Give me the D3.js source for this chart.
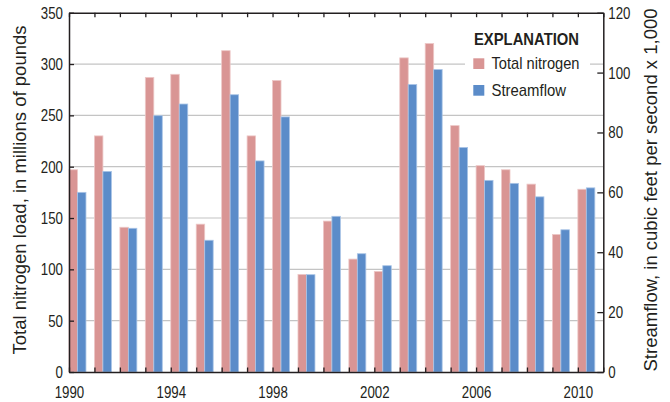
<!DOCTYPE html>
<html>
<head>
<meta charset="utf-8">
<script src="https://cdn.jsdelivr.net/npm/d3@7"></script>
<style>
  body { margin: 0; background: #fff; }
  svg { display: block; }
  text { font-family: "Liberation Sans Narrow", "Liberation Sans", Arial, sans-serif; fill: #231f20; }
</style>
</head>
<body>
<svg id="chart" width="670" height="402"></svg>
<script>
const years = d3.range(1990, 2011);
const nitrogen = [197, 230, 141, 287, 290, 144, 313, 230, 284, 95, 147, 110, 98, 306, 320, 240, 201, 197, 183, 134, 178];
const streamflow = [60, 67, 48, 85.6, 89.5, 44, 92.6, 70.5, 85.2, 32.5, 52, 39.5, 35.5, 96, 101, 75, 64, 63, 58.5, 47.5, 61.5];
const leftTicks = [0, 50, 100, 150, 200, 250, 300, 350];
const rightTicks = [0, 20, 40, 60, 80, 100, 120];
const yearLabels = [1990, 1994, 1998, 2002, 2006, 2010];
const seriesNames = ["Total nitrogen", "Streamflow"];

const colors = ["#d99594", "#5b8cc9"];
const strokes = ["#edc8c7", "#a9c4e6"];

const svg = d3.select("#chart");
const L = 69, R = 603.3, T = 12.7, B = 372;

const x = d3.scaleLinear().domain([1990, 2011]).range([L, R]);
const yL = d3.scaleLinear().domain([0, 350]).range([B, T]);
const yR = d3.scaleLinear().domain([0, 120]).range([B, T]);

// condense text horizontally to mimic a narrow typeface
function narrow(sel, f) {
  sel.each(function () {
    const w = this.getComputedTextLength();
    if (w > 0) d3.select(this).attr("textLength", w * f).attr("lengthAdjust", "spacingAndGlyphs");
  });
}

// gridlines
svg.append("g").selectAll("line").data(leftTicks.filter(d => d > 0 && d < 350)).join("line")
  .attr("x1", L).attr("x2", R).attr("y1", d => yL(d)).attr("y2", d => yL(d))
  .attr("stroke", "#c4c4c4").attr("stroke-width", 1.2);

// bars
const bw = (x(1991) - x(1990)) / 3;
svg.append("g").selectAll("rect").data(years.map((yr, i) => ({yr, v: nitrogen[i]}))).join("rect")
  .attr("x", d => x(d.yr)).attr("width", bw)
  .attr("y", d => yL(d.v)).attr("height", d => B - yL(d.v))
  .attr("fill", colors[0]).attr("stroke", strokes[0]).attr("stroke-width", 0.8);
svg.append("g").selectAll("rect").data(years.map((yr, i) => ({yr, v: streamflow[i]}))).join("rect")
  .attr("x", d => x(d.yr) + bw).attr("width", bw)
  .attr("y", d => yR(d.v)).attr("height", d => B - yR(d.v))
  .attr("fill", colors[1]).attr("stroke", strokes[1]).attr("stroke-width", 0.8);

// legend background + legend
const lg = svg.append("g");
lg.append("rect").attr("x", 465).attr("y", 26).attr("width", 125).attr("height", 76).attr("fill", "#fff");
lg.append("text").attr("x", 474).attr("y", 45).attr("font-size", 17).attr("font-weight", "bold")
  .attr("textLength", 105).attr("lengthAdjust", "spacingAndGlyphs").text("EXPLANATION");
const legW = [88, 74.5];
seriesNames.forEach((n, i) => {
  lg.append("rect").attr("x", 473.3).attr("y", 58.3 + i * 26.7).attr("width", 11).attr("height", 10.7).attr("fill", colors[i]);
  lg.append("text").attr("x", 491.5).attr("y", 69 + i * 26.7).attr("font-size", 17)
    .attr("textLength", legW[i]).attr("lengthAdjust", "spacingAndGlyphs").text(n);
});

// axes
const axStyle = g => {
  g.selectAll("path.domain").attr("stroke", "#231f20").attr("stroke-width", 1.5);
  g.selectAll(".tick line").attr("stroke", "#231f20").attr("stroke-width", 1.3);
  g.selectAll("text").attr("font-size", 17).attr("font-family", "'Liberation Sans', Arial, sans-serif").attr("fill", "#231f20")
    .call(narrow, 0.78);
};

svg.append("g").attr("transform", `translate(${L},0)`)
  .call(d3.axisLeft(yL).tickValues(leftTicks).tickSize(-5).tickSizeOuter(0).tickPadding(6))
  .call(axStyle);
svg.append("g").attr("transform", `translate(${R},0)`)
  .call(d3.axisRight(yR).tickValues(rightTicks).tickSize(-6).tickSizeOuter(0).tickPadding(5))
  .call(axStyle);
svg.append("g").attr("transform", `translate(0,${B})`)
  .call(d3.axisBottom(x).tickValues(d3.range(1990, 2012)).tickSize(-4.5).tickSizeOuter(0)
    .tickFormat(d => yearLabels.includes(d) ? d : "").tickPadding(14))
  .call(axStyle);
svg.append("g").attr("transform", `translate(0,${T})`)
  .call(d3.axisTop(x).tickValues(d3.range(1990, 2012)).tickSize(-4.5).tickSizeOuter(0).tickFormat(""))
  .call(axStyle);

// axis titles
svg.append("text").attr("transform", `translate(26,190) rotate(-90)`)
  .attr("text-anchor", "middle").attr("font-size", 17.5)
  .attr("textLength", 329).attr("lengthAdjust", "spacingAndGlyphs")
  .text("Total nitrogen load, in millions of pounds");
svg.append("text").attr("transform", `translate(656.5,190) rotate(-90)`)
  .attr("text-anchor", "middle").attr("font-size", 17.5)
  .attr("textLength", 363).attr("lengthAdjust", "spacingAndGlyphs")
  .text("Streamflow, in cubic feet per second x 1,000");
</script>
</body>
</html>
